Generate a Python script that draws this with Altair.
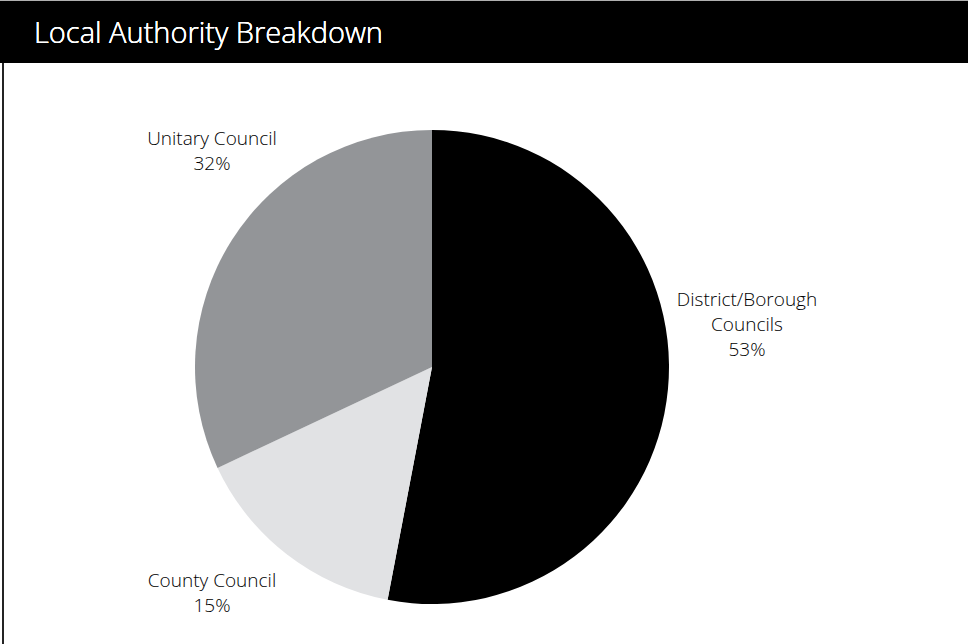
import altair as alt
import pandas as pd

categories = ["District/Borough Councils", "County Council", "Unitary Council"]
label_lines = [["District/Borough", "Councils"], ["County Council"], ["Unitary Council"]]
values = [53, 15, 32]
colors = ["#000000", "#e1e2e4", "#939598"]
title_text = "Local Authority Breakdown"

W, H = 968, 644
CX, CY, R = 432, 367, 237
FONT = "Open Sans"

df = pd.DataFrame({
    "category": categories,
    "value": values,
    "order": list(range(len(categories))),
    "label": [lines + [f"{v}%"] for lines, v in zip(label_lines, values)],
})

base = alt.Chart(df)

pie = base.mark_arc(stroke=None).encode(
    theta=alt.Theta("value:Q", stack=True),
    order=alt.Order("order:Q"),
    color=alt.Color("category:N", scale=alt.Scale(domain=categories, range=colors), legend=None),
    x=alt.value(CX),
    y=alt.value(CY),
    radius=alt.value(R),
)

header = base.mark_rect(color="#000000").encode(
    x=alt.value(0), x2=alt.value(W), y=alt.value(1), y2=alt.value(63)
)

top_line = base.mark_rule(color="#b0b0b0", strokeWidth=1).encode(
    x=alt.value(0), x2=alt.value(W), y=alt.value(0.5)
)

left_border = base.mark_rule(color="#222222", strokeWidth=1.5).encode(
    x=alt.value(3), y=alt.value(63), y2=alt.value(H)
)

title = base.mark_text(
    text=title_text, color="white", font=FONT, fontSize=29, fontWeight=300,
    align="left", baseline="middle",
).encode(x=alt.value(34), y=alt.value(34))

# label anchor positions (top line centre) per category
label_pos = {
    "District/Borough Councils": (747, 300),
    "County Council": (212, 581),
    "Unitary Council": (212, 139),
}

labels = []
for cat in categories:
    px, py = label_pos[cat]
    labels.append(
        base.transform_filter(alt.datum.category == cat).mark_text(
            font=FONT, fontSize=19, fontWeight=300, color="#000000",
            align="center", baseline="middle", lineHeight=25,
        ).encode(text="label", x=alt.value(px), y=alt.value(py))
    )

chart = alt.layer(top_line, header, left_border, title, pie, *labels).properties(
    width=W, height=H, padding=0, autosize=alt.AutoSizeParams(type="none"),
    background="white",
).configure_view(stroke=None)

chart.save("out.html", embed_options={"renderer": "svg", "actions": False})
